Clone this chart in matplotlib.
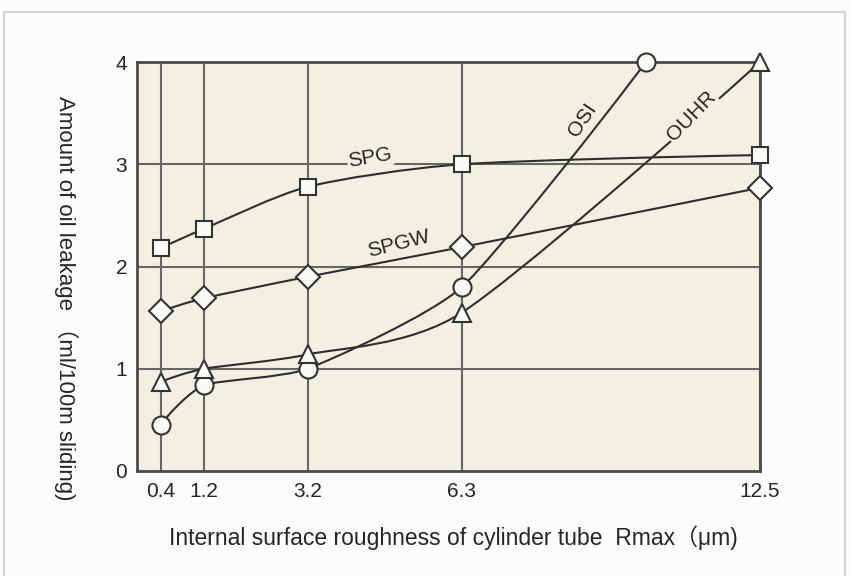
import numpy as np
import matplotlib
matplotlib.use("Agg")
import matplotlib.pyplot as plt
from matplotlib.path import Path
from matplotlib.patches import PathPatch, Rectangle

# Roughness classes (Rmax, µm) and oil leakage (ml / 100 m sliding)
x_ticks = [0.4, 1.2, 3.2, 6.3, 12.5]
x_tick_labels = ["0.4", "1.2", "3.2", "6.3", "12.5"]
y_ticks = [0, 1, 2, 3, 4]

spg_x = [0.4, 1.2, 3.2, 6.3, 12.5]
spg_y = [2.18, 2.37, 2.78, 3.00, 3.09]

spgw_x = [0.4, 1.2, 3.2, 6.3, 12.5]
spgw_y = [1.56, 1.69, 1.90, 2.19, 2.77]

ouhr_x = [0.4, 1.2, 3.2, 6.3, 12.5]
ouhr_y = [0.87, 1.00, 1.14, 1.55, 4.00]

osi_x = [0.4, 1.2, 3.2, 6.3, 10.1]
osi_y = [0.45, 0.84, 1.00, 1.80, 4.00]

series_names = ["SPG", "SPGW", "OSI", "OUHR"]

plt.rcParams["font.family"] = ["Liberation Sans", "DejaVu Sans"]

INK = "#262626"
GRID = "#666666"
FACE = "#f3f0e1"

fig = plt.figure(figsize=(8.5, 5.76), dpi=100, facecolor="#fcfcfa")

# light frame around the figure panel
fig.patches.append(Rectangle((4 / 850, -0.05), 841 / 850, 1 - 12 / 576 + 0.05,
                             transform=fig.transFigure, fill=False,
                             edgecolor="#d4d4d0", linewidth=1.5))

ax = fig.add_axes([137 / 850, 105 / 576, 623 / 850, 409 / 576])
ax.set_facecolor(FACE)

p = 0.95
fwd = lambda v: np.sign(v) * np.abs(v) ** p
inv = lambda v: np.sign(v) * np.abs(v) ** (1 / p)
ax.set_xscale("function", functions=(fwd, inv))
ax.set_xlim(0, 12.5)
ax.set_ylim(0, 4)

ax.set_xticks(x_ticks)
ax.set_xticklabels(x_tick_labels)
ax.set_yticks(y_ticks)
ax.tick_params(length=0, labelsize=15, colors=INK)
ax.tick_params(axis="y", pad=7)
ax.tick_params(axis="x", pad=8)
for s in ax.spines.values():
    s.set_color("#4a4a4a")
    s.set_linewidth(2.0)

for xv in x_ticks:
    ax.axvline(xv, color=GRID, lw=1.5, zorder=1)
for yv in y_ticks[1:-1]:
    ax.axhline(yv, color=GRID, lw=1.5, zorder=1)


def smooth_path(xs, ys, tension=0.6):
    """Cubic Bezier path through the points (Catmull-Rom style tangents)."""
    pts = np.column_stack([fwd(np.asarray(xs, float)), np.asarray(ys, float)])
    n = len(pts)
    tang = np.zeros_like(pts)
    for i in range(1, n - 1):
        tang[i] = (pts[i + 1] - pts[i - 1]) / 2.0
    tang[0] = 1.5 * (pts[1] - pts[0]) - 0.5 * tang[1]
    tang[-1] = 1.5 * (pts[-1] - pts[-2]) - 0.5 * tang[-2]
    verts = [pts[0]]
    codes = [Path.MOVETO]
    for i in range(n - 1):
        c1 = pts[i] + tang[i] * tension / 3
        c2 = pts[i + 1] - tang[i + 1] * tension / 3
        verts += [c1, c2, pts[i + 1]]
        codes += [Path.CURVE4] * 3
    verts = np.array(verts)
    verts[:, 0] = inv(verts[:, 0])
    return Path(verts, codes)


series = [
    (spg_x, spg_y, "s", 12, 0.7),
    (spgw_x, spgw_y, "D", 12.5, 0.7),
    (osi_x, osi_y, "o", 13, 0.55),
    (ouhr_x, ouhr_y, "^", 13, 0.7),
]
for xs, ys, mk, ms, tens in series:
    ax.add_patch(PathPatch(smooth_path(xs, ys, tens), facecolor="none",
                           edgecolor="#2e2e2e", lw=1.5, zorder=3,
                           clip_on=False))
    ax.plot(xs, ys, linestyle="none", marker=mk, markersize=ms,
            markerfacecolor="#fbfaf4", markeredgecolor="#333333",
            markeredgewidth=1.5, zorder=5, clip_on=False)

label_style = dict(color=INK, fontsize=15, ha="center", va="center", zorder=4,
                   bbox=dict(boxstyle="square,pad=0.05", fc=FACE, ec="none"))
ax.text(4.44, 3.06, series_names[0], rotation=10, **label_style)
ax.text(5.02, 2.22, series_names[1], rotation=14, **label_style)
ax.text(8.79, 3.43, series_names[2], rotation=56, **label_style)
ax.text(11.05, 3.47, series_names[3], rotation=46, **label_style)

fig.text(453 / 850, 1 - 538 / 576,
         "Internal surface roughness of cylinder tube  Rmax\uff08\u03bcm)",
         ha="center", va="center", fontsize=16.5, color=INK,
         family=["Liberation Sans", "Noto Sans CJK JP", "DejaVu Sans"])
fig.text(66 / 850, 1 - 298 / 576,
         "Amount of oil leakage \uff08ml/100m sliding)",
         ha="center", va="center", rotation=-90, fontsize=16, color=INK,
         family=["Liberation Sans", "Noto Sans CJK JP", "DejaVu Sans"])

fig.savefig("out.png", dpi=100, facecolor=fig.get_facecolor())
